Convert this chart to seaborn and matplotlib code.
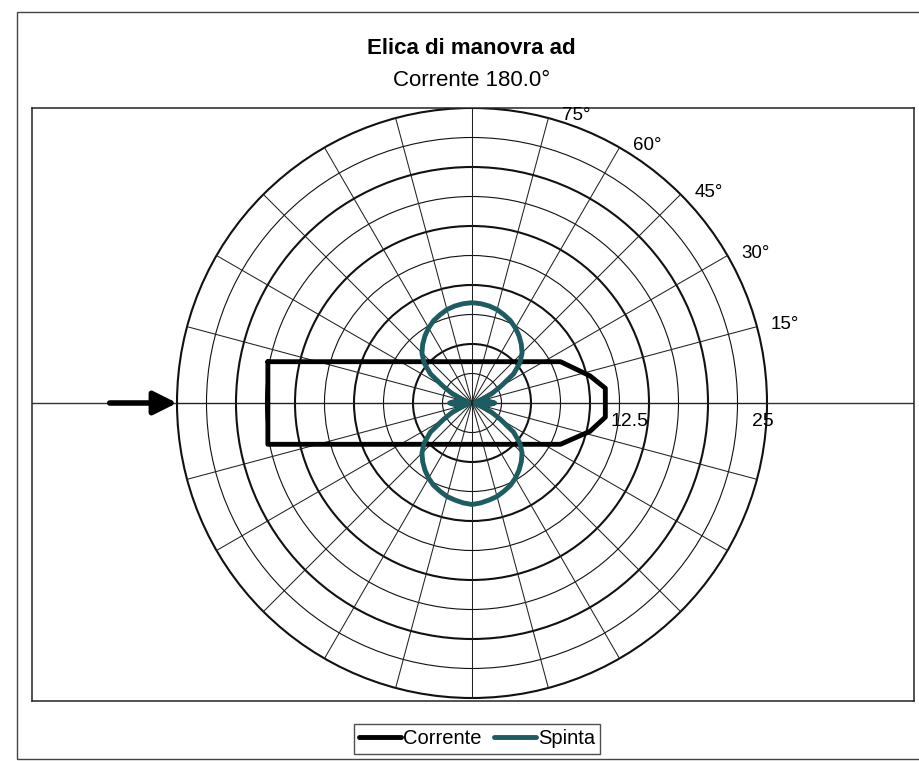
import numpy as np
import pandas as pd
import matplotlib
matplotlib.use("Agg")
import matplotlib.pyplot as plt
from matplotlib.patches import Circle, Rectangle
import seaborn as sns

# ---- data -------------------------------------------------------------
title = "Elica di manovra ad"
subtitle = "Corrente 180.0°"

# radial scale
r_max = 25.0
ring_values = [2.5, 5.0, 7.5, 10.0, 12.5, 15.0, 17.5, 20.0, 22.5, 25.0]
major_rings = [5.0, 10.0, 15.0, 20.0, 25.0]
radial_tick_labels = ["12.5", "25"]
radial_tick_values = [12.5, 25.0]

# angular grid
spoke_angles = list(range(0, 360, 15))
angle_tick_values = [15, 30, 45, 60, 75]
angle_tick_labels = ["15°", "30°", "45°", "60°", "75°"]

# thrust ("Spinta") polar curve, every 5 degrees from 0 to 355
spinta_angles = list(range(0, 360, 5))
spinta_values = [
    1.9, 1.5, 0.8, 0.3, 0.8, 1.8, 2.8, 4.3, 5.3, 6.0, 6.5, 6.95, 7.35, 7.7, 7.95, 8.2, 8.35, 8.45,
    8.5,
    8.45, 8.35, 8.2, 7.95, 7.7, 7.35, 6.95, 6.5, 6.0, 5.3, 4.3, 2.8, 1.8, 0.8, 0.3, 0.8, 1.5,
    1.9,
    1.5, 0.8, 0.3, 0.8, 1.8, 2.8, 4.3, 5.3, 6.0, 6.5, 6.95, 7.35, 7.7, 7.95, 8.2, 8.35, 8.5,
    8.6,
    8.5, 8.35, 8.2, 7.95, 7.7, 7.35, 6.95, 6.5, 6.0, 5.3, 4.3, 2.8, 1.8, 0.8, 0.3, 0.8, 1.5,
]

# hull outline ("Corrente" series), in chart units
ship_x = [-17.3, 7.5, 10.0, 11.3, 11.3, 10.0, 7.5, -17.3, -17.3]
ship_y = [3.5, 3.5, 2.3, 1.25, -1.2, -2.4, -3.5, -3.5, 3.5]

# current direction arrow (from -> to, along the horizontal axis)
arrow_from = -30.7
arrow_to = -25.0

series_names = ["Corrente", "Spinta"]

# ---- style ------------------------------------------------------------
sns.set_style("white")
plt.rcParams["font.family"] = ["Liberation Sans", "DejaVu Sans"]
plt.rcParams["text.color"] = "black"

teal = "#1d5c60"
W, H = 919, 761
fig = plt.figure(figsize=(W / 100, H / 100), dpi=100)

# outer frame of the figure
fig.patches.append(Rectangle((17 / W, 2 / H), 1.2, (H - 14) / H, transform=fig.transFigure,
                             fill=False, lw=1.0, edgecolor="#444444", zorder=0))

px = r_max / 295.0  # chart units per pixel
cx, cy = 472, 403
ax_left, ax_right, ax_top, ax_bottom = 32, 914, 108, 701
ax = fig.add_axes([ax_left / W, (H - ax_bottom) / H, (ax_right - ax_left) / W,
                   (ax_bottom - ax_top) / H])
ax.set_xlim((ax_left - cx) * px, (ax_right - cx) * px)
ax.set_ylim(-(ax_bottom - cy) * px, (cy - ax_top) * px)
ax.set_xticks([])
ax.set_yticks([])
for s in ax.spines.values():
    s.set_linewidth(1.1)
    s.set_color("#222222")

# horizontal reference line across the whole plot area
ax.axhline(0, color="#333333", lw=1.0, zorder=1)

# rings
for r in ring_values:
    major = r in major_rings
    ax.add_patch(Circle((0, 0), r, fill=False, edgecolor="#111111",
                        lw=1.5 if major else 0.8, zorder=1))

# spokes
for a in spoke_angles:
    t = np.deg2rad(a)
    ax.plot([0, r_max * np.cos(t)], [0, r_max * np.sin(t)], color="#222222", lw=0.75, zorder=1)

# angle labels at the rim
for a, lab in zip(angle_tick_values, angle_tick_labels):
    t = np.deg2rad(a)
    ax.annotate(lab, xy=(r_max * np.cos(t), r_max * np.sin(t)), xytext=(10, 1.5),
                textcoords="offset points", ha="left", va="center", fontsize=13.5,
                color="black")

# radial labels on the horizontal axis
radial_offsets = {"12.5": 7, "25": -3}
for v, lab in zip(radial_tick_values, radial_tick_labels):
    ax.annotate(lab, xy=(v, 0), xytext=(radial_offsets[lab], -13),
                textcoords="offset points", ha="center", va="center", fontsize=14,
                color="black")

# series
ship = pd.DataFrame({"x": ship_x, "y": ship_y})
sns.lineplot(data=ship, x="x", y="y", sort=False, estimator=None, color="black",
             lw=2.3, ax=ax, label=series_names[0], zorder=3)

theta = np.deg2rad(np.array(spinta_angles + [spinta_angles[0]]))
rad = np.array(spinta_values + [spinta_values[0]])
spinta = pd.DataFrame({"x": rad * np.cos(theta), "y": rad * np.sin(theta)})
sns.lineplot(data=spinta, x="x", y="y", sort=False, estimator=None, color=teal,
             lw=2.6, ax=ax, label=series_names[1], zorder=4)
ax.set_xlabel("")
ax.set_ylabel("")

# current arrow
ax.annotate("", xy=(arrow_to, 0), xytext=(arrow_from, 0),
            arrowprops=dict(arrowstyle="-|>,head_length=0.7,head_width=0.35",
                            mutation_scale=20, lw=4, color="black",
                            shrinkA=0, shrinkB=0), zorder=5)

# titles
fig.text(0.513, 1 - 48 / H, title, ha="center", va="center", fontsize=16, fontweight="bold",
         color="black")
fig.text(0.513, 1 - 81 / H, subtitle, ha="center", va="center", fontsize=16, color="black")

# legend
handles, labels = ax.get_legend_handles_labels()
for h in handles:
    h.set_linewidth(3.5)
leg = fig.legend(handles, labels, loc="center", bbox_to_anchor=(477 / W, 1 - 739 / H),
                 ncol=2, frameon=True, fancybox=False, edgecolor="#222222",
                 fontsize=14.5, handlelength=2.1, handletextpad=0.1,
                 columnspacing=0.6, borderpad=0.25, borderaxespad=0)
leg.get_frame().set_linewidth(1.0)
for t in leg.get_texts():
    t.set_color("black")
if ax.get_legend() is not None:
    ax.get_legend().remove()

fig.savefig("out.png", dpi=100)
